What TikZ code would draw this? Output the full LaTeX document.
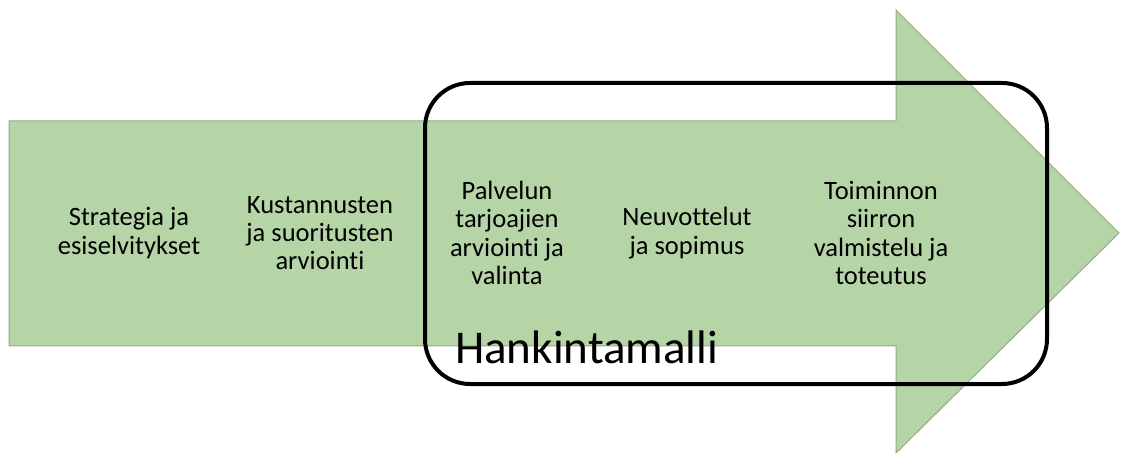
\documentclass[tikz,border=0pt]{standalone}
\usepackage{fontspec}
\setmainfont{Carlito}[Ligatures={NoCommon}]
\definecolor{arrowfill}{HTML}{B5D5A7}
\definecolor{arrowedge}{HTML}{93AD87}
\begin{document}
\begin{tikzpicture}[x=1pt,y=-1pt,
  steplabel/.style={align=center,font=\fontsize{26.5}{28.4}\selectfont,text=black,inner sep=0pt},
  bigarrow/.style={fill=arrowfill,draw=arrowedge,line width=1pt,line join=miter},
  frame/.style={draw=black,line width=4pt,rounded corners=45pt}]
\useasboundingbox (0,0) rectangle (1122,454);
\draw[bigarrow] (9,121) -- (896,121) -- (896,10) -- (1119,233) -- (896,453) -- (896,346) -- (9,346) -- cycle;
\node[frame,minimum width=622pt,minimum height=301pt,inner sep=0pt] (box) at (736,233.5) {};
\node[steplabel] (s1) at (129,233) {Strategia ja\\esiselvitykset};
\node[steplabel] (s2) at (320,233) {Kustannusten\\ja suoritusten\\arviointi};
\node[steplabel] (s3) at (507,233) {Palvelun\\tarjoajien\\arviointi ja\\valinta};
\node[steplabel] (s4) at (687,233) {Neuvottelut\\ja sopimus};
\node[steplabel] (s5) at (881,233) {Toiminnon\\siirron\\valmistelu ja\\toteutus};
\node[anchor=base west,inner sep=0pt,font=\fontsize{47}{52}\selectfont] (title) at (455,363) {Hankintamalli};
\end{tikzpicture}
\end{document}
